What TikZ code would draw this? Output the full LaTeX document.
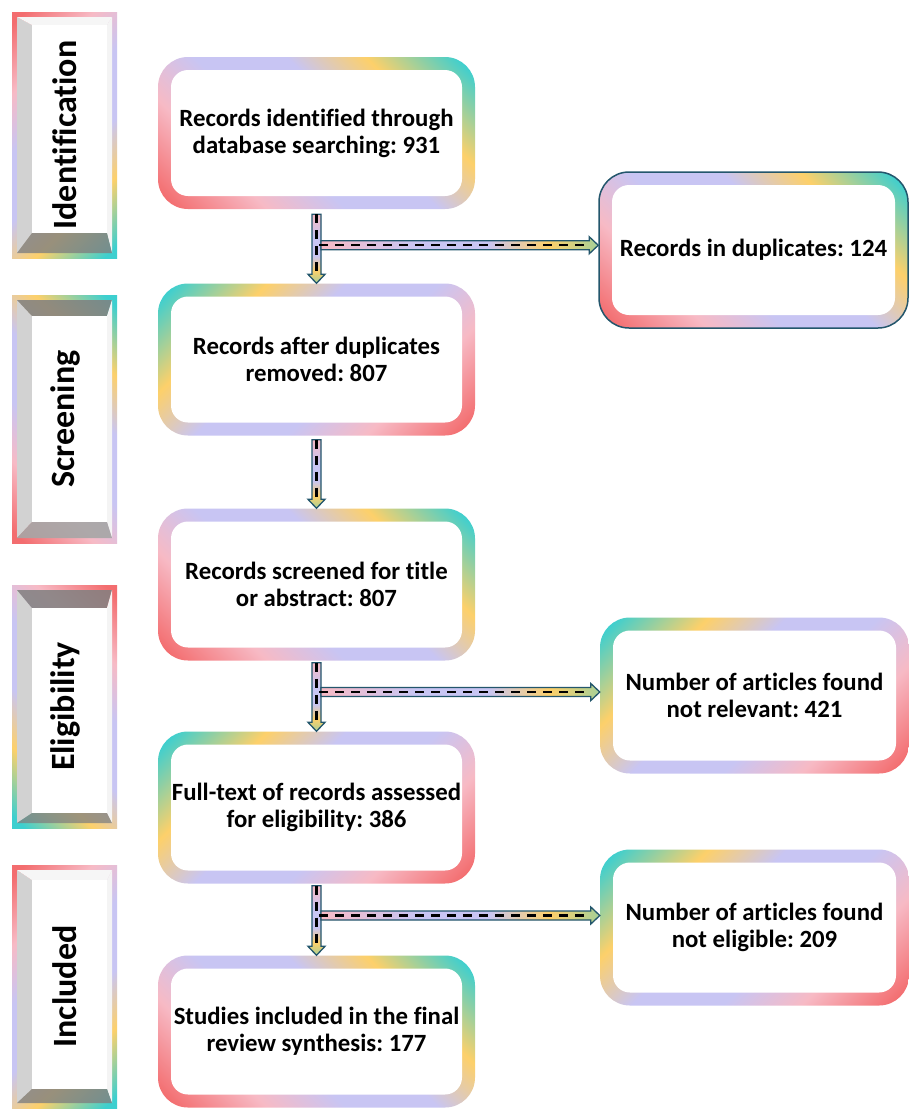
\documentclass[tikz,border=0pt]{standalone}
\usepackage{fontspec}
\setmainfont{Carlito}[Ligatures={NoCommon}]
\usetikzlibrary{calc}
\frenchspacing
\definecolor{coralc}{HTML}{F36D6F}
\definecolor{pinkc}{HTML}{F7BAC5}
\definecolor{lavc}{HTML}{C8C5F3}
\definecolor{yelc}{HTML}{FDD06A}
\definecolor{tealc}{HTML}{3DCFCF}
\definecolor{arrowc}{HTML}{23566C}
\definecolor{facel}{HTML}{D2D2D2}
\definecolor{facer}{HTML}{F4F4F4}
\definecolor{facew}{HTML}{F6F6F6}
\definecolor{faced}{HTML}{808080}
\pgfdeclarehorizontalshading{rainbow}{100bp}{color(0bp)=(coralc); color(17bp)=(coralc); color(31bp)=(pinkc); color(43bp)=(lavc); color(57bp)=(lavc); color(69bp)=(yelc); color(83bp)=(tealc); color(100bp)=(tealc)}
\pgfdeclarehorizontalshading{arrowsh}{100bp}{color(0bp)=(pinkc); color(25bp)=(pinkc); color(42bp)=(lavc); color(55bp)=(lavc); color(66bp)=(yelc); color(75bp)=(yelc!55!tealc); color(100bp)=(yelc!55!tealc)}
\newcommand\boxfont{\fontsize{24.8}{27}\selectfont\bfseries}
\newcommand\sidefont{\fontsize{34}{36}\selectfont\bfseries}
\tikzset{
  fbox/.style={rounded corners=30pt, minimum width=317pt, minimum height=152pt,
    inner sep=0pt, align=center, font=\boxfont, text=black,
    shading=rainbow, shading angle=#1,
    path picture={\fill[white, rounded corners=17pt]
      ([shift={(13pt,13pt)}]path picture bounding box.south west) rectangle
      ([shift={(-13pt,-13pt)}]path picture bounding box.north east);}},
  rbox/.style={minimum width=309pt, minimum height=156pt},
  sidelabel/.style={rotate=90, font=\sidefont, inner sep=0pt, text=black},
  arrowbody/.style={shading=arrowsh, draw=arrowc, line width=1.3pt, line join=miter},
  dashpat/.style={black, line width=2.3pt, dash pattern=on 9pt off 7pt}
}
% vertical arrow: from #1 (top) to tip #2
\newcommand\varr[2]{%
  \path[arrowbody, shading angle=270]
    ($(#1)+(-4.5,0)$) -- ($(#2)+(-4.5,-9)$) -- ($(#2)+(-8.5,-9)$) -- (#2) --
    ($(#2)+(8.5,-9)$) -- ($(#2)+(4.5,-9)$) -- ($(#1)+(4.5,0)$) -- cycle;
  \draw[dashpat] (#1) -- ($(#2)+(0,-9)$);
}
% horizontal arrow: from #1 (left) to tip #2
\newcommand\harr[2]{%
  \path[arrowbody, shading angle=0]
    ($(#1)+(0,-4.5)$) -- ($(#2)+(-9,-4.5)$) -- ($(#2)+(-9,-8.5)$) -- (#2) --
    ($(#2)+(-9,8.5)$) -- ($(#2)+(-9,4.5)$) -- ($(#1)+(0,4.5)$) -- cycle;
  \draw[dashpat] ($(#1)+(-2,0)$) -- ($(#2)+(-9,0)$);
}
% side bevel frame
\newcommand\sideframe[9]{%
  \path[shading=rainbow, shading angle=#4] (12,#2) rectangle (117,#3);
  \fill[facel] (17,{#2+5}) -- (32,{#2+5+#7}) -- (32,{#3-5-#8}) -- (17,{#3-5}) -- cycle;
  \fill[#5] (17,{#2+5}) -- (112,{#2+5}) -- (107,{#2+5+#7}) -- (32,{#2+5+#7}) -- cycle;
  \fill[facer] (112,{#2+5}) -- (112,{#3-5}) -- (107,{#3-5-#8}) -- (107,{#2+5+#7}) -- cycle;
  \fill[#6] (17,{#3-5}) -- (112,{#3-5}) -- (107,{#3-5-#8}) -- (32,{#3-5-#8}) -- cycle;
  \fill[white] (32,{#2+5+#7}) rectangle (107,{#3-5-#8});
  \node[sidelabel] (#1) at (65,{(#2+#3)/2}) {#9};
}
\begin{document}
\begin{tikzpicture}[x=1pt,y=-1pt]
\useasboundingbox (0,0) rectangle (909,1109);
\fill[white] (0,0) rectangle (909,1109);

% side labels
\sideframe{sid}{12}{258}{-45}{{facew}}{{faced,opacity=0.8}}{8}{20}{Identification}
\sideframe{sscr}{295}{543}{45}{{faced,opacity=0.85}}{{faced!70,opacity=0.9}}{16}{16}{Screening}
\sideframe{selig}{585}{828}{225}{{faced,opacity=0.85}}{{faced,opacity=0.75}}{18}{10}{Eligibility}
\sideframe{sinc}{865}{1108}{-45}{{facew}}{{faced,opacity=0.8}}{10}{14}{Included}

% main boxes
\node[fbox=45]  (b1) at (316.5,133)   {Records identified through\\database searching: 931};
\node[fbox=135] (b2) at (316.5,359.5) {Records after duplicates\\removed: 807};
\node[fbox=45]  (b3) at (316.5,584.5) {Records screened for title\\or abstract: 807};
\node[fbox=135] (b4) at (316.5,807.5) {Full-text of records assessed\\for eligibility: 386};
\node[fbox=45]  (b5) at (316.5,1031.5) {Studies included in the final\\review synthesis: 177};

% right boxes
\node[fbox=45, rbox, draw=arrowc, line width=1.5pt] (r1) at (753.5,250) {Records in duplicates: 124};
\node[fbox=135, rbox] (r2) at (754.5,695.5) {Number of articles found\\not relevant: 421};
\node[fbox=135, rbox] (r3) at (754.5,927.5) {Number of articles found\\not eligible: 209};

% arrow anchors
\coordinate (s1) at ([yshift=-5pt]b1.south);
\coordinate (s2) at ([yshift=-4pt]b2.south);
\coordinate (s3) at ([yshift=-2pt]b3.south);
\coordinate (s4) at ([yshift=-2pt]b4.south);
\coordinate (j1) at ([shift={(4.5pt,1pt)}]$(b1.south)!0.5!(b2.north)$);
\coordinate (j2) at ([shift={(4.5pt,4pt)}]$(b3.south)!0.5!(b4.north)$);
\coordinate (j3) at ([shift={(4.5pt,4pt)}]$(b4.south)!0.5!(b5.north)$);

\varr{s1}{b2.north}
\varr{s2}{b3.north}
\varr{s3}{b4.north}
\varr{s4}{b5.north}

\harr{j1}{j1 -| r1.west}
\harr{j2}{j2 -| r2.west}
\harr{j3}{j3 -| r3.west}
\end{tikzpicture}
\end{document}
